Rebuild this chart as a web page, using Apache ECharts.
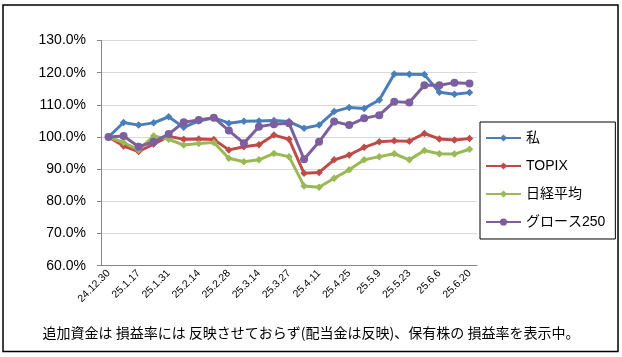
<!DOCTYPE html>
<html>
<head>
<meta charset="utf-8">
<script src="https://cdn.jsdelivr.net/npm/echarts@6/dist/echarts.min.js"></script>
<style>
html,body{margin:0;padding:0;background:#fff;}
#c{width:622px;height:357px;}
</style>
</head>
<body>
<div id="c"></div>
<script>
var categories = ['24.12.30','25.1.10','25.1.17','25.1.24','25.1.31','25.2.7','25.2.14','25.2.21','25.2.28','25.3.7','25.3.14','25.3.21','25.3.27','25.4.4','25.4.11','25.4.18','25.4.25','25.5.2','25.5.9','25.5.16','25.5.23','25.5.30','25.6.6','25.6.13','25.6.20'];
var seriesNames = ['私','TOPIX','日経平均','グロース250'];
var watashi = [100,104.5,103.7,104.4,106.3,103,105,106,104.3,104.9,105,105.1,104.8,102.7,103.7,107.9,109.2,108.9,111.5,119.6,119.5,119.4,113.9,113.3,113.8];
var topix = [100,97.2,95.5,97.8,100.2,99.3,99.4,99.2,96,97,97.6,100.6,99.3,88.7,89,92.9,94.4,96.8,98.5,98.8,98.7,101.1,99.4,99.1,99.5];
var nikkei = [100,98.3,96,100.3,99.3,97.5,98,98.3,93.4,92.3,92.9,94.9,93.9,84.8,84.4,87.2,89.8,92.9,93.9,94.8,92.9,95.8,94.8,94.7,96.2];
var growth = [100,100.3,97,98.5,100.9,104.6,105.3,106,102,98.1,103.2,104,104.3,93.1,98.5,104.8,103.7,105.8,106.8,111,110.7,116.1,116.1,116.9,116.6];
var yTicks = {min:60, max:130, interval:10};
var note = '追加資金は 損益率には 反映させておらず(配当金は反映)、保有株の 損益率を表示中。';

var colors = ['#4a7ebb','#be4b48','#98b954','#7d5fa0'];
var symbols = ['diamond','diamond','diamond','circle'];
var sizes = [7.5,7.5,7.5,8];
var datasets = [watashi, topix, nikkei, growth];
var FONT = "'Liberation Sans','Noto Sans CJK JP',sans-serif";

var chart = echarts.init(document.getElementById('c'), null, {renderer:'canvas'});
chart.setOption({
  animation:false,
  backgroundColor:'#fff',
  textStyle:{fontFamily:FONT},
  grid:{left:101, right:145, top:40.5, bottom:91.3, containLabel:false},
  legend:{
    orient:'vertical', left:480, top:122,
    padding:[9,10,10,5], itemGap:14, itemWidth:35, itemHeight:9,
    borderColor:'#000', borderWidth:1,
    textStyle:{fontSize:14, color:'#000', fontFamily:FONT},
    data:seriesNames
  },
  xAxis:{
    type:'category', data:categories, boundaryGap:true,
    axisLine:{lineStyle:{color:'#868686', width:1}},
    axisTick:{show:false},
    axisLabel:{interval:1, rotate:45, fontSize:10.5, color:'#000', margin:6, fontFamily:FONT}
  },
  yAxis:{
    type:'value', min:yTicks.min, max:yTicks.max, interval:yTicks.interval,
    axisLine:{show:true, lineStyle:{color:'#868686'}},
    axisTick:{show:true, length:4, lineStyle:{color:'#868686'}},
    splitLine:{lineStyle:{color:'#d9d9d9'}},
    axisLabel:{fontSize:14, color:'#000', margin:15, fontFamily:FONT,
      formatter:function(v){return v.toFixed(1)+'%';}}
  },
  series:datasets.map(function(d,i){
    return {
      name:seriesNames[i], type:'line', data:d,
      symbol:symbols[i], symbolSize:sizes[i], showSymbol:true,
      lineStyle:{width:3, color:colors[i]},
      itemStyle:{color:colors[i]},
      z:2+i
    };
  }),
  graphic:[
    {type:'rect', shape:{x:3, y:5, width:615, height:346.5}, style:{fill:'none', stroke:'#000', lineWidth:1.5}, z:-1},
    {type:'text', left:'center', top:326, style:{text:note, fontSize:14, fill:'#000', fontFamily:"'Noto Sans CJK JP',sans-serif"}}
  ]
});
</script>
</body>
</html>
